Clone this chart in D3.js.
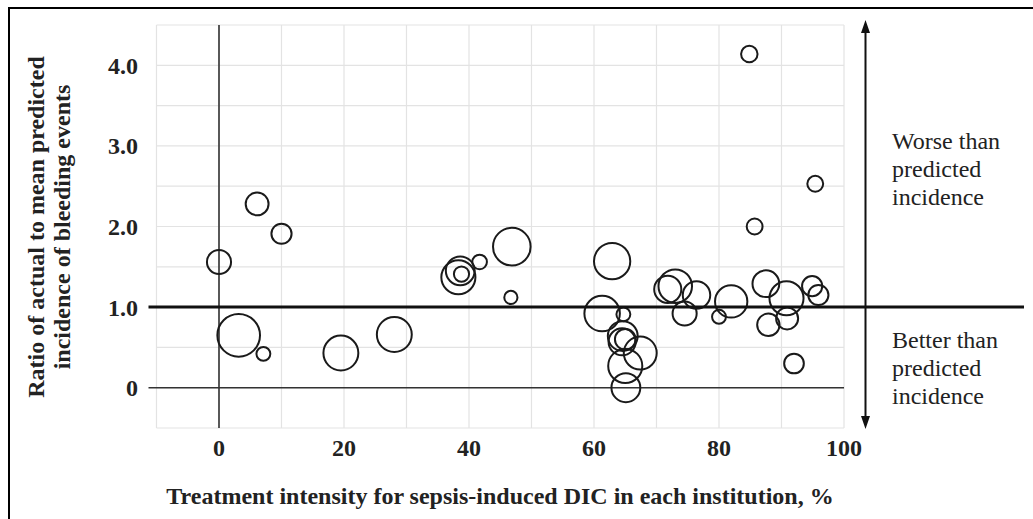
<!DOCTYPE html>
<html>
<head>
<meta charset="utf-8">
<script src="https://cdn.jsdelivr.net/npm/d3@7"></script>
<style>
  body { margin: 0; background: #fff; }
  svg { display: block; }
</style>
</head>
<body>
<div class="chart"></div>
<script>
// one entry per institution
const intensity = [0, 6.1, 10.0, 3.15, 7.1, 19.5, 28.05, 38.3, 38.6, 38.8, 41.7, 46.85, 46.7,
  62.9, 61.3, 64.7, 64.6, 64.5, 65.0, 67.4, 65.0, 65.1, 71.8, 73.0, 76.4, 74.5, 80.0, 81.95,
  85.7, 84.85, 87.5, 87.9, 90.8, 90.9, 94.9, 95.9, 92.0, 95.4];
const ratio = [1.56, 2.28, 1.91, 0.65, 0.42, 0.43, 0.66, 1.37, 1.45, 1.41, 1.56, 1.75, 1.12,
  1.57, 0.92, 0.91, 0.64, 0.57, 0.60, 0.43, 0.27, 0.0, 1.22, 1.26, 1.15, 0.92, 0.88, 1.07,
  2.0, 4.14, 1.29, 0.78, 1.11, 0.86, 1.26, 1.15, 0.30, 2.53];
const patients = [30, 27, 21, 94, 10, 63, 63, 60, 43, 12, 11, 73, 9,
  68, 65, 10, 46, 38, 22, 56, 60, 43, 38, 58, 39, 30, 10, 54,
  13, 14, 37, 26, 60, 25, 21, 21, 20, 13];

const xTicks = [0, 20, 40, 60, 80, 100];
const yTicks = [0, 1, 2, 3, 4];
const yTickLabels = ["0", "1.0", "2.0", "3.0", "4.0"];

const worseText = ["Worse than", "predicted", "incidence"];
const betterText = ["Better than", "predicted", "incidence"];

const width = 1033,
      height = 519;

let x = d3.scaleLinear().domain([-10, 100]).range([156.5, 844]);
let y = d3.scaleLinear().domain([-0.5, 4.5]).range([428, 25]);
let r = d3.scaleSqrt().domain([0, 100]).range([0, 22]);

let data = intensity.map((d, i) => ({x: d, y: ratio[i], n: patients[i]}));

let svg = d3.select(".chart")
  .append("svg")
    .attr("width", width)
    .attr("height", height)
    .attr("font-family", "'Liberation Serif', 'Times New Roman', serif");

// frame (only left and top visible)
svg.append("path")
  .attr("d", `M9,${height} V8 H${width}`)
  .attr("fill", "none")
  .attr("stroke", "#000")
  .attr("stroke-width", 2);

// grid
let grid = svg.append("g")
    .attr("stroke", "#e3e3e3")
    .attr("stroke-width", 1.2);
grid.selectAll(".gx")
  .data(d3.range(-10, 101, 10))
  .join("line")
    .attr("x1", d => x(d)).attr("x2", d => x(d))
    .attr("y1", y(4.5)).attr("y2", y(-0.5));
grid.selectAll(".gy")
  .data(d3.range(-0.5, 4.51, 0.5))
  .join("line")
    .attr("x1", x(-10)).attr("x2", x(100))
    .attr("y1", d => y(d)).attr("y2", d => y(d));

// axis lines
svg.append("line")
  .attr("x1", x(0)).attr("x2", x(0))
  .attr("y1", y(4.5)).attr("y2", y(-0.5))
  .attr("stroke", "#333").attr("stroke-width", 1.6);
svg.append("line")
  .attr("x1", x(-10) - 8).attr("x2", x(100))
  .attr("y1", y(0)).attr("y2", y(0))
  .attr("stroke", "#333").attr("stroke-width", 1.6);

// tick labels
svg.append("g")
    .attr("font-size", 24)
    .attr("font-weight", "bold")
    .attr("text-anchor", "end")
    .attr("fill", "#222")
  .selectAll("text")
  .data(yTicks)
  .join("text")
    .attr("x", 138)
    .attr("y", d => y(d))
    .attr("dy", "0.35em")
    .text((d, i) => yTickLabels[i]);

svg.append("g")
    .attr("font-size", 24)
    .attr("font-weight", "bold")
    .attr("text-anchor", "middle")
    .attr("fill", "#222")
  .selectAll("text")
  .data(xTicks)
  .join("text")
    .attr("x", d => x(d))
    .attr("y", 456)
    .text(d => d);

// axis titles
svg.append("text")
  .attr("x", 500)
  .attr("y", 504)
  .attr("text-anchor", "middle")
  .attr("font-size", 24)
  .attr("font-weight", "bold")
  .attr("fill", "#222")
  .text("Treatment intensity for sepsis-induced DIC in each institution, %");

svg.append("text")
    .attr("transform", "translate(0,227) rotate(-90)")
    .attr("text-anchor", "middle")
    .attr("font-size", 24)
    .attr("font-weight", "bold")
    .attr("fill", "#222")
  .selectAll("tspan")
  .data(["Ratio of actual to mean predicted", "incidence of bleeding events"])
  .join("tspan")
    .attr("x", 0)
    .attr("y", (d, i) => 44 + i * 26)
    .text(d => d);

// bubbles
svg.append("g")
    .attr("fill", "none")
    .attr("stroke", "#1a1a1a")
    .attr("stroke-width", 2)
  .selectAll("circle")
  .data(data)
  .join("circle")
    .attr("cx", d => x(d.x))
    .attr("cy", d => y(d.y))
    .attr("r", d => r(d.n));

// reference line at ratio 1.0
svg.append("line")
  .attr("x1", x(-10) - 8).attr("x2", 1024)
  .attr("y1", y(1)).attr("y2", y(1))
  .attr("stroke", "#111").attr("stroke-width", 3);

// double arrow
const ax = 865.5;
svg.append("line")
  .attr("x1", ax).attr("x2", ax)
  .attr("y1", 30).attr("y2", 420)
  .attr("stroke", "#111").attr("stroke-width", 2);
svg.append("path")
  .attr("d", `M${ax},20 L${ax - 4.5},33 L${ax + 4.5},33 Z M${ax},429 L${ax - 4.5},416 L${ax + 4.5},416 Z`)
  .attr("fill", "#111");

// annotations
let note = svg.append("g")
    .attr("font-size", 24)
    .attr("fill", "#222");
note.selectAll(".worse")
  .data(worseText)
  .join("text")
    .attr("x", 892)
    .attr("y", (d, i) => 149 + i * 28)
    .text(d => d);
note.selectAll(".better")
  .data(betterText)
  .join("text")
    .attr("x", 892)
    .attr("y", (d, i) => 348 + i * 28)
    .text(d => d);
</script>
</body>
</html>
